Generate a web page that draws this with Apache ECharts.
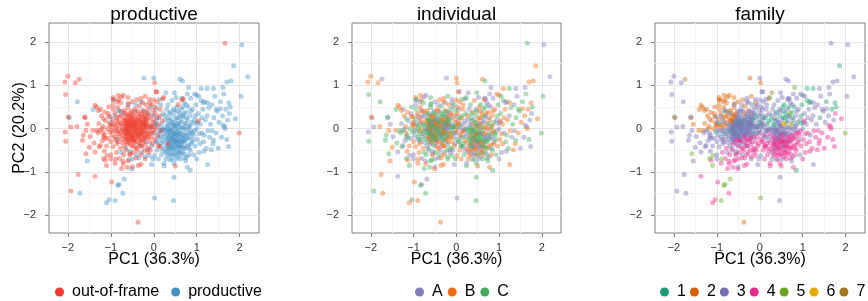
<!DOCTYPE html>
<html>
<head>
<meta charset="utf-8">
<script src="https://cdn.jsdelivr.net/npm/echarts@6/dist/echarts.min.js"></script>
<style>
  html, body { margin: 0; background: #fff; }
  #chart { width: 868px; height: 301px; }
</style>
</head>
<body>
<div id="chart"></div>
<script>
// PCA scores: [PC1, PC2, individual, family]
var outOfFrame = [
  [-2.0,1.21,'B',3],[-2.07,1.08,'B',3],[-1.83,1.06,'B',3],[-1.74,1.14,'A',7],[-2.05,0.79,'C',3],
  [-1.99,0.27,'B',7],[-2.06,-0.08,'A',3],[-2.05,-0.29,'C',3],[-1.93,0.04,'A',3],[-1.79,0.05,'B',3],
  [-1.61,0.27,'C',3],[-1.55,0.10,'A',2],[-1.64,-0.15,'C',3],[-1.58,-0.58,'C',5],[-1.76,-1.06,'B',3],
  [-1.93,-1.44,'C',3],[-1.37,-1.10,'A',4],[-1.37,0.54,'B',2],[-1.29,0.42,'B',2],[-1.33,-0.04,'C',2],
  [-1.17,-0.19,'A',3],[-1.13,-0.73,'B',4],[-0.98,-1.23,'B',4],[-0.37,-2.16,'B',2],[1.66,1.97,'C',3],
  [1.99,-0.10,'C',5],[0.50,-0.86,'B',4],[0.02,1.06,'B',2],[-0.40,0.67,'B',2],[-0.71,0.77,'A',2],
  [-0.82,0.67,'B',2],[-0.59,0.58,'C',2],[0.07,0.85,'A',3],[0.23,0.72,'C',1],[0.65,0.67,'B',3],
  [0.15,-0.42,'A',4],[0.34,-0.35,'C',4],[0.0,0.66,'B',3],[0.69,0.69,'A',3],[0.57,0.56,'C',1],
  [1.04,0.18,'B',4],[0.05,0.85,'B',3],[0.21,0.69,'A',2],
  [-1.60,0.25,'A',2],[-1.58,-0.04,'B',3],[-1.66,-0.27,'C',3],[-1.48,-0.18,'A',3],[-1.42,-0.04,'B',2],
  [-1.39,-0.33,'C',3],[-1.50,-0.43,'B',3],[-1.37,-0.54,'A',3],[-1.33,0.5,'B',2],[-1.17,0.23,'C',2],
  [-1.21,0.0,'A',2],[-1.17,-0.1,'B',3],[-1.13,-0.23,'C',3],[-1.25,-0.39,'A',3],[-1.15,-0.52,'B',3],
  [-1.17,-0.69,'C',5],[-1.0,-0.6,'A',3],[-1.10,-0.85,'C',5],[-1.02,0.08,'B',2],[-1.06,0.35,'A',2],
  [-0.94,0.67,'C',2],[-0.83,0.77,'B',2],[-0.75,0.73,'A',2],[-0.94,0.45,'C',2],[-0.86,0.25,'B',2],
  [-0.98,-0.04,'A',3],[-0.90,-0.19,'C',3],[-0.86,-0.35,'B',3],[-0.80,-0.69,'A',4],[-0.71,-0.81,'B',4],
  [-0.62,-0.89,'C',4],[-0.55,-0.58,'A',3],[-0.36,-0.85,'B',4],
  [-1.28,0.12,'A',2],[-1.25,-0.05,'C',3],[-1.22,0.3,'B',2],[-1.2,-0.28,'A',3],[-1.18,0.05,'B',2],
  [-1.15,-0.15,'C',3],[-1.12,0.18,'A',2],[-1.1,-0.4,'B',3],[-1.08,0.0,'C',2],[-1.06,-0.22,'A',3],
  [-1.05,0.28,'B',2],[-1.03,-0.08,'C',1],[-1.02,0.12,'A',2],[-1.0,-0.3,'B',3],[-1.27,-0.42,'C',3],
  [-1.24,0.45,'A',2],[-1.14,0.38,'B',2],[-1.09,-0.62,'A',5],[-1.3,-0.1,'C',3],
  [-0.98,0.05,'B',2],[-0.97,-0.15,'A',3],[-0.96,0.22,'C',2],[-0.95,-0.42,'B',3],[-0.93,0.12,'A',1],
  [-0.92,-0.05,'C',3],[-0.91,0.35,'B',2],[-0.9,-0.25,'A',3],[-0.88,0.02,'C',2],[-0.87,-0.55,'B',4],
  [-0.86,0.18,'A',3],[-0.85,-0.12,'C',1],[-0.84,0.5,'B',2],[-0.83,-0.3,'A',3],[-0.82,0.08,'C',2],
  [-0.81,-0.02,'B',3],[-0.8,0.28,'A',2],[-0.79,-0.2,'C',3],[-0.78,-0.45,'B',4],[-0.77,0.12,'A',3],
  [-0.76,-0.08,'C',1],[-0.75,0.4,'B',2],[-0.74,-0.32,'A',3],[-0.73,0.0,'C',3],[-0.72,0.2,'B',2],
  [-0.71,-0.15,'A',3],[-0.7,-0.6,'C',4],[-0.95,0.55,'A',2],[-0.89,-0.7,'B',5],[-0.77,0.6,'C',2],
  [-0.72,-0.75,'A',4],
  [-0.69,0.1,'B',3],[-0.68,-0.05,'A',1],[-0.67,0.25,'C',2],[-0.66,-0.22,'B',3],[-0.65,0.02,'A',3],
  [-0.64,-0.12,'C',1],[-0.63,0.15,'B',2],[-0.62,-0.35,'A',4],[-0.61,0.05,'C',3],[-0.6,-0.08,'B',3],
  [-0.59,0.32,'A',2],[-0.58,-0.18,'C',3],[-0.57,0.0,'B',1],[-0.56,0.12,'A',3],[-0.55,-0.28,'C',4],
  [-0.54,0.22,'B',3],[-0.53,-0.05,'A',3],[-0.52,-0.15,'C',1],[-0.51,0.08,'B',3],[-0.5,-0.4,'A',4],
  [-0.49,0.02,'C',3],[-0.48,-0.1,'B',3],[-0.47,0.18,'A',1],[-0.46,-0.22,'C',3],[-0.45,0.06,'B',3],
  [-0.44,-0.02,'A',1],[-0.43,0.28,'C',3],[-0.42,-0.3,'B',4],[-0.41,0.1,'A',3],[-0.4,-0.12,'C',3],
  [-0.68,0.42,'B',2],[-0.64,-0.5,'A',4],[-0.6,0.48,'C',2],[-0.56,-0.6,'B',4],[-0.52,0.4,'A',3],
  [-0.48,-0.55,'C',4],[-0.44,0.45,'B',3],[-0.42,-0.68,'A',4],[-0.66,0.35,'C',2],[-0.62,-0.25,'B',3],
  [-0.58,0.18,'A',3],[-0.54,-0.38,'C',3],[-0.5,0.15,'B',1],[-0.46,-0.32,'A',3],[-0.67,-0.1,'C',3],
  [-0.63,0.0,'B',1],[-0.59,-0.02,'A',3],[-0.55,0.08,'C',3],[-0.51,-0.2,'B',3],[-0.47,-0.04,'A',1],
  [-0.43,0.0,'C',3],[-0.45,-0.15,'B',3],[-0.57,-0.12,'A',3],[-0.61,0.2,'C',2],[-0.53,0.3,'B',3],
  [-0.49,0.25,'A',3],[-0.65,-0.3,'C',3],[-0.41,-0.45,'B',4],
  [-0.39,0.05,'A',3],[-0.38,-0.08,'C',1],[-0.37,0.2,'B',3],[-0.36,-0.2,'A',4],[-0.35,0.0,'C',3],
  [-0.34,0.12,'B',1],[-0.33,-0.3,'A',4],[-0.32,0.3,'C',3],[-0.31,-0.05,'B',3],[-0.3,0.08,'A',3],
  [-0.29,-0.15,'C',3],[-0.28,0.22,'B',1],[-0.27,-0.02,'A',3],[-0.26,0.4,'C',2],[-0.25,-0.25,'B',4],
  [-0.24,0.1,'A',3],[-0.23,-0.1,'C',3],[-0.22,0.18,'B',3],[-0.21,0.02,'A',1],[-0.2,-0.38,'C',4],
  [-0.19,0.3,'B',3],[-0.18,-0.05,'A',3],[-0.17,0.12,'C',3],[-0.16,-0.2,'B',4],[-0.15,0.05,'A',3],
  [-0.14,0.45,'C',3],[-0.13,-0.12,'B',3],[-0.12,0.25,'A',1],[-0.11,0.0,'C',3],[-0.1,-0.3,'B',4],
  [-0.38,-0.5,'A',4],[-0.34,0.52,'C',2],[-0.3,-0.6,'B',4],[-0.26,0.6,'A',3],[-0.22,-0.5,'C',4],
  [-0.18,0.55,'B',3],[-0.14,-0.55,'A',4],[-0.36,0.35,'C',2],[-0.28,-0.4,'B',3],[-0.2,0.38,'A',3],
  [-0.12,-0.45,'C',4],[-0.32,-0.12,'B',3],[-0.24,-0.15,'A',3],[-0.16,0.2,'C',1],[-0.35,-0.35,'B',3],
  [-0.3,0.15,'A',3],[-0.25,0.28,'C',3],[-0.2,0.08,'B',3],
  [-0.09,0.1,'A',3],[-0.08,-0.1,'C',3],[-0.07,0.3,'B',1],[-0.06,-0.2,'A',4],[-0.05,0.05,'C',3],
  [-0.04,0.2,'B',3],[-0.03,-0.35,'A',4],[-0.02,0.42,'C',3],[-0.01,-0.05,'B',3],[0.0,0.15,'A',1],
  [0.02,-0.25,'C',4],[0.03,0.35,'B',3],[0.05,0.0,'A',3],[0.07,0.25,'C',1],[0.09,-0.15,'B',4],
  [0.11,0.1,'A',3],[0.14,0.3,'C',3],[0.17,-0.05,'B',3],[0.2,0.18,'A',1],[-0.05,0.55,'C',3],
  [0.04,0.5,'B',3],[-0.08,-0.5,'A',4],[0.1,-0.4,'C',4],[0.15,0.45,'B',3],[-0.1,0.6,'A',2],
  [-0.95,0.72,'B',2],[-0.6,0.72,'C',2],[-0.5,0.62,'A',2],[-0.3,0.7,'B',3],[-0.2,0.75,'C',2],
  [-0.1,0.68,'A',3],[0.08,0.62,'B',3],[-0.85,0.62,'A',2],[-1.05,0.5,'C',2],
  [-0.9,-0.8,'B',4],[-0.6,-0.75,'C',4],[-0.5,-0.88,'A',3],[-0.3,-0.82,'B',4],[-0.75,-0.92,'C',4],
  [-1.0,-0.7,'A',3],[-0.2,-0.7,'C',3],
  [-0.66,0.07,'A',3],[-0.64,-0.18,'B',3],[-0.62,0.11,'C',1],[-0.6,-0.24,'A',3],[-0.58,0.05,'B',3],
  [-0.56,-0.07,'C',3],[-0.54,0.16,'A',3],[-0.52,-0.26,'B',4],[-0.5,0.04,'C',3],[-0.48,-0.17,'A',3],
  [-0.46,0.13,'B',1],[-0.44,-0.09,'C',3],[-0.42,0.21,'A',3],[-0.4,-0.03,'B',3],[-0.38,0.14,'C',3],
  [-0.36,-0.13,'A',3],[-0.34,0.04,'B',3],[-0.32,-0.22,'C',4],[-0.3,0.02,'A',1],[-0.28,-0.08,'B',3],
  [-0.26,0.16,'C',3],[-0.24,-0.04,'A',3],[-0.22,0.26,'B',3],[-0.2,-0.18,'C',3],[-0.18,0.06,'A',3],
  [-0.16,-0.1,'B',1],[-0.65,0.19,'C',2],[-0.61,-0.14,'A',3],[-0.57,0.27,'B',2],[-0.53,-0.22,'C',3],
  [-0.49,0.09,'A',3],[-0.45,-0.26,'B',3],[-0.41,0.17,'C',1],[-0.37,-0.16,'A',3],[-0.33,0.2,'B',3],
  [-0.29,-0.27,'C',3],[-0.25,0.05,'A',3],[-0.21,-0.22,'B',4],[-0.17,0.22,'C',3],
  [-0.7,-0.02,'A',3],[-0.68,0.18,'B',2],[-0.63,-0.06,'C',3],[-0.59,0.1,'A',3],[-0.55,-0.14,'B',3],
  [-0.51,0.2,'C',3],[-0.47,-0.28,'A',4],[-0.43,0.08,'B',3],[-0.39,-0.22,'C',3],[-0.35,0.26,'A',3],
  [-0.31,-0.1,'B',3],[-0.27,0.12,'C',3],[-0.23,-0.3,'A',4],[-0.19,0.15,'B',3],
  [-0.74,0.08,'C',2],[-0.78,-0.12,'A',3],[-0.82,0.16,'B',2],[-0.72,-0.24,'C',3],[-0.76,0.3,'A',2],
  [-0.86,-0.06,'B',3],[-0.9,0.08,'C',2],[-0.69,-0.4,'A',3],[-0.58,-0.32,'B',3],[-0.47,0.33,'C',3],
  [-0.38,0.4,'A',3],[-0.62,0.3,'B',2],[-0.54,0.36,'C',2],[-0.33,-0.4,'A',4],[-0.44,-0.42,'B',3],
  [-0.28,0.34,'C',3],[-0.15,0.35,'A',3],[-0.12,-0.2,'B',3],[-0.08,0.02,'C',3],[-0.04,-0.1,'A',3],
  [0.0,0.05,'B',3]
];

var productive = [
  [2.05,1.94,'A',3],[1.86,1.45,'B',1],[2.19,1.20,'A',3],[2.03,0.75,'C',3],[1.70,1.08,'B',3],
  [1.80,1.10,'B',3],[1.61,0.95,'A',3],[1.39,0.93,'A',3],[1.24,0.93,'C',1],[1.10,0.93,'B',1],
  [1.90,0.23,'B',4],[1.76,0.35,'A',4],[1.78,0.50,'C',1],[1.55,0.46,'B',3],[1.61,0.08,'A',4],
  [1.66,0.0,'B',4],[1.74,-0.41,'A',4],[1.39,-0.27,'C',4],[1.34,-0.49,'B',4],[1.25,-0.83,'B',3],
  [1.17,-0.52,'A',4],[0.85,-0.96,'C',1],[0.78,-0.89,'B',4],[0.47,-1.12,'C',3],[0.46,-1.66,'C',3],
  [0.02,-1.60,'A',5],[-0.23,1.17,'A',2],[0.0,1.17,'B',3],[0.61,1.14,'B',3],[0.67,1.10,'C',3],
  [0.81,0.95,'A',5],[0.48,0.83,'C',3],[0.28,0.83,'A',7],[1.0,0.77,'B',3],[-1.78,0.62,'C',3],
  [-1.97,0.25,'A',3],[-1.55,-0.75,'B',3],[-1.72,-1.49,'B',3],[-1.10,-1.71,'B',4],[-1.04,-1.64,'C',4],
  [-0.90,-1.66,'B',5],[-0.72,-1.49,'C',4],[-0.84,-1.31,'C',5],[-0.81,-1.29,'A',5],[-0.69,-1.16,'A',5],
  [-0.51,-0.93,'B',4],[-0.94,0.67,'A',2],[-0.05,-0.83,'A',3],[0.24,-0.86,'C',4],[-1.41,0.44,'C',2],
  [-0.82,0.42,'A',3],[-1.02,0.27,'B',3],
  [-0.28,-0.55,'A',4],[-0.25,0.42,'B',3],[-0.2,-0.65,'C',4],[-0.15,-0.48,'A',4],[-0.12,0.35,'B',3],
  [-0.1,-0.62,'C',4],[-0.08,0.5,'A',3],[-0.05,-0.4,'B',4],[-0.02,-0.7,'C',3],[0.0,0.3,'A',3],
  [-0.18,-0.3,'B',3],[-0.06,0.05,'C',1],[-0.22,0.12,'A',3],[-0.3,-0.4,'B',4],[-0.4,-0.6,'C',3],
  [-0.5,-0.7,'A',4],[-0.45,0.4,'B',3],[-0.6,0.55,'C',3],[-0.7,0.35,'A',3],[-0.8,0.4,'B',1],
  [-0.65,-0.45,'C',3],[-0.55,-0.52,'A',3],[-0.35,-0.68,'B',4],[-0.75,-0.55,'C',3],[-0.9,0.3,'A',3],
  [-1.0,0.15,'B',3],[-0.85,-0.25,'C',3],[-0.42,0.55,'A',3],[-0.3,0.62,'B',3],[-0.58,-0.72,'C',4],
  [0.01,-0.1,'A',3],[0.03,0.12,'B',1],[0.05,-0.3,'C',4],[0.06,0.45,'A',3],[0.08,-0.5,'B',4],
  [0.09,0.05,'C',3],[0.1,-0.2,'A',3],[0.12,0.25,'B',1],[0.13,-0.4,'C',4],[0.15,-0.05,'A',3],
  [0.16,0.55,'B',3],[0.18,-0.6,'C',4],[0.19,0.1,'A',1],[0.2,-0.28,'B',3],[0.22,0.35,'C',3],
  [0.23,-0.12,'A',4],[0.25,-0.45,'B',4],[0.26,0.0,'C',3],[0.27,0.2,'A',1],[0.28,-0.7,'B',3],
  [0.29,-0.22,'C',4],[0.3,0.45,'A',3],[0.02,-0.62,'B',3],[0.14,0.68,'C',3],[0.24,-0.8,'A',4],
  [0.07,0.2,'B',3],[0.17,-0.35,'C',4],[0.21,-0.02,'A',3],[0.11,-0.7,'B',4],
  [0.31,-0.1,'C',3],[0.32,0.1,'A',1],[0.33,-0.35,'B',4],[0.34,0.25,'C',3],[0.35,-0.2,'A',4],
  [0.36,-0.5,'B',4],[0.37,0.0,'C',3],[0.38,-0.28,'A',4],[0.39,0.38,'B',1],[0.4,-0.15,'C',3],
  [0.41,-0.42,'A',4],[0.42,0.12,'B',3],[0.43,-0.05,'C',3],[0.44,-0.6,'A',4],[0.45,-0.25,'B',3],
  [0.46,0.3,'C',1],[0.47,-0.35,'A',4],[0.48,0.05,'B',3],[0.49,-0.18,'C',4],[0.5,-0.48,'A',4],
  [0.51,0.2,'B',3],[0.52,-0.08,'C',3],[0.53,-0.3,'A',4],[0.54,0.5,'B',1],[0.55,-0.22,'C',3],
  [0.56,-0.65,'A',4],[0.57,0.1,'B',6],[0.58,-0.4,'C',4],[0.59,-0.12,'A',3],[0.6,0.35,'B',1],
  [0.33,0.55,'C',3],[0.38,-0.72,'A',3],[0.42,0.65,'B',3],[0.47,-0.8,'C',4],[0.52,0.72,'A',3],
  [0.57,-0.52,'B',4],[0.35,-0.05,'C',3],[0.4,0.2,'A',1],[0.45,-0.12,'B',3],[0.5,0.0,'C',3],
  [0.55,0.12,'A',6],[0.6,-0.3,'B',4],[0.32,-0.25,'C',3],[0.37,-0.6,'A',4],[0.43,-0.45,'B',4],
  [0.48,0.4,'C',3],[0.53,-0.42,'A',3],[0.58,0.25,'B',1],[0.36,0.18,'C',3],[0.44,-0.3,'A',3],
  [0.49,-0.6,'B',4],[0.54,-0.15,'C',4],[0.59,-0.55,'A',4],[0.41,-0.22,'B',3],[0.46,0.08,'C',3],
  [0.51,-0.3,'A',4],[0.56,0.0,'B',3],[0.39,-0.05,'C',3],[0.34,-0.45,'A',3],[0.47,-0.1,'B',3],
  [0.61,-0.05,'C',3],[0.62,0.15,'A',1],[0.63,-0.38,'B',4],[0.64,0.45,'C',3],[0.65,-0.2,'A',4],
  [0.66,0.02,'B',3],[0.67,-0.55,'C',4],[0.68,0.28,'A',1],[0.69,-0.1,'B',3],[0.7,-0.3,'C',4],
  [0.71,0.6,'A',3],[0.72,0.1,'B',6],[0.73,-0.45,'C',4],[0.74,-0.02,'A',3],[0.75,0.38,'B',1],
  [0.76,-0.25,'C',4],[0.77,-0.65,'A',3],[0.78,0.2,'B',3],[0.79,-0.12,'C',3],[0.8,0.5,'A',1],
  [0.81,-0.38,'B',4],[0.82,0.05,'C',3],[0.83,-0.2,'A',4],[0.84,0.3,'B',3],[0.85,-0.5,'C',4],
  [0.86,0.7,'A',3],[0.87,-0.05,'B',3],[0.88,0.15,'C',1],[0.89,-0.3,'A',4],[0.9,0.45,'B',3],
  [0.62,-0.7,'C',4],[0.66,0.7,'A',3],[0.7,0.35,'B',5],[0.74,-0.75,'C',3],[0.78,0.8,'A',3],
  [0.82,-0.6,'B',4],[0.64,-0.28,'C',3],[0.72,-0.18,'A',4],[0.8,0.0,'B',3],[0.68,0.5,'C',1],
  [0.76,0.55,'A',3],[0.84,-0.1,'B',4],
  [0.92,-0.15,'C',4],[0.94,0.2,'A',3],[0.96,-0.4,'B',4],[0.98,0.55,'C',1],[1.0,0.0,'A',3],
  [1.02,-0.25,'B',4],[1.04,0.35,'C',3],[1.06,-0.55,'A',4],[1.08,0.1,'B',3],[1.1,0.65,'C',1],
  [1.12,-0.1,'A',4],[1.14,0.45,'B',3],[1.16,-0.3,'C',4],[1.18,0.62,'A',1],[1.2,0.2,'B',3],
  [1.22,-0.45,'C',4],[1.24,0.3,'A',3],[1.26,-0.05,'B',4],[1.28,0.48,'C',3],[1.3,-0.2,'A',4],
  [0.95,0.8,'B',3],[1.05,0.75,'C',3],[1.15,0.6,'A',1],[1.25,0.6,'B',3],[0.93,-0.6,'C',3],
  [1.0,-0.7,'A',4],[1.08,-0.35,'B',4],[1.18,-0.15,'C',3],[0.97,0.12,'A',1],[1.12,0.25,'B',3],
  [1.32,0.1,'C',3],[1.35,0.55,'A',3],[1.38,-0.35,'B',4],[1.4,0.25,'C',1],[1.42,0.75,'A',3],
  [1.45,-0.1,'B',4],[1.48,0.4,'C',3],[1.5,-0.45,'A',4],[1.52,0.15,'B',3],[1.55,0.62,'C',1],
  [1.58,-0.2,'A',4],[1.6,0.3,'B',3],[1.63,0.8,'C',3],[1.65,0.05,'A',4],[1.68,0.45,'B',1],
  [1.7,-0.25,'C',4],[1.72,0.2,'A',3],[1.75,0.6,'B',1],[1.45,0.45,'C',3],[1.36,-0.05,'A',4],
  [0.22,-0.18,'A',3],[0.25,-0.32,'B',4],[0.28,-0.05,'C',3],[0.3,-0.4,'A',4],[0.33,-0.15,'B',3],
  [0.35,-0.3,'C',4],[0.38,-0.1,'A',3],[0.4,-0.35,'B',4],[0.42,-0.22,'C',3],[0.44,-0.4,'A',4],
  [0.46,-0.18,'B',3],[0.48,-0.28,'C',4],[0.5,-0.12,'A',3],[0.52,-0.36,'B',4],[0.54,-0.25,'C',4],
  [0.56,-0.1,'A',3],[0.58,-0.3,'B',4],[0.6,-0.18,'C',3],[0.62,-0.42,'A',4],[0.64,-0.12,'B',3],
  [0.66,-0.32,'C',4],[0.68,-0.22,'A',4],[0.7,-0.45,'B',4],[0.72,-0.28,'C',3],[0.74,-0.15,'A',4],
  [0.31,-0.52,'B',4],[0.36,-0.42,'C',3],[0.41,-0.55,'A',4],[0.46,-0.48,'B',4],[0.51,-0.58,'C',4],
  [0.56,-0.4,'A',3],[0.61,-0.5,'B',4],[0.66,-0.42,'C',4],[0.71,-0.58,'A',4],[0.76,-0.4,'B',4],
  [0.3,0.02,'C',3],[0.35,0.08,'A',1],[0.4,0.0,'B',3],[0.45,0.15,'C',3],[0.5,0.08,'A',3],
  [0.55,0.25,'B',1],[0.6,0.05,'C',3],[0.65,0.18,'A',3],[0.7,0.02,'B',3],[0.75,0.12,'C',1],
  [0.8,-0.22,'A',4],[0.85,0.08,'B',3],[0.9,-0.1,'C',4],
  [0.27,-0.55,'A',3],[0.32,-0.62,'B',4],[0.42,-0.7,'C',4],[0.52,-0.7,'A',3],[0.62,-0.6,'B',4],
  [0.72,-0.68,'C',4],[0.82,-0.45,'A',4],[0.87,-0.35,'B',4],[0.92,-0.25,'C',3],[0.95,-0.05,'A',4],
  [0.26,0.3,'B',1],[0.36,0.35,'C',3],[0.46,0.45,'A',3],[0.56,0.4,'B',1],[0.66,0.3,'C',3],
  [0.76,0.25,'A',1],[0.86,0.4,'B',3],[0.96,0.3,'C',1],[1.02,0.15,'A',3],[1.06,-0.12,'B',4],
  [0.15,-0.2,'C',3],[0.18,0.0,'A',3],[0.12,-0.1,'B',3],[0.08,-0.3,'C',4],[0.2,-0.5,'A',4],
  [0.05,0.1,'B',3]
];

var panelTitles = ['productive', 'individual', 'family'];
var productiveNames = ['out-of-frame', 'productive'];
var productiveColors = ['#ef3b2c', '#4292c6'];
var individualNames = ['A', 'B', 'C'];
var individualColors = ['#807dba', '#f16913', '#41ab5d'];
var familyNames = ['1', '2', '3', '4', '5', '6', '7'];
var familyColors = ['#1b9e77', '#d95f02', '#7570b3', '#e7298a', '#66a61e', '#e6ab02', '#a6761d'];
var majorTicks = [-2, -1, 0, 1, 2];
var minorTicks = [-1.5, -0.5, 0.5, 1.5];

var panelLeft = [49, 352, 655];
var panelWidth = [210, 209, 210];
var legendLeft = [55, 415, 660];
var legendGap = [12, 5, 4];
var font = '"Liberation Sans", Arial, sans-serif';

function fmt(v) {
    return v < 0 ? '\u2212' + (-v) : String(v);
}

var allCells = outOfFrame.map(function (r) { return r.concat('out-of-frame'); })
    .concat(productive.map(function (r) { return r.concat('productive'); }));

var grids = [], xAxes = [], yAxes = [], series = [], titles = [], legends = [];

function axisPair(dim, i, ticks, major) {
    return {
        gridIndex: i,
        type: 'value',
        min: dim === 'x' ? -2.44 : -2.41,
        max: dim === 'x' ? 2.45 : 2.44,
        axisLine: { show: false, onZero: false },
        axisTick: {
            show: major, length: 4, customValues: ticks,
            lineStyle: { color: '#7f7f7f' }
        },
        axisLabel: {
            show: major, customValues: ticks, formatter: fmt,
            color: '#333', fontSize: 11, fontFamily: font,
            margin: dim === 'x' ? 9 : 13
        },
        splitLine: { show: true, lineStyle: { color: major ? '#e5e5e5' : '#f4f4f4', width: 1 } }
    };
}

function scatter(i, name, color, data) {
    return {
        type: 'scatter', name: name,
        xAxisIndex: i * 2, yAxisIndex: i * 2,
        symbol: 'circle', symbolSize: 5,
        itemStyle: { color: color, opacity: 0.42 },
        emphasis: { disabled: true },
        data: data
    };
}

for (var i = 0; i < 3; i++) {
    grids.push({
        left: panelLeft[i], top: 23, width: panelWidth[i], height: 210,
        show: true, borderColor: '#7f7f7f', borderWidth: 1, backgroundColor: '#fff'
    });
    var xa = axisPair('x', i, majorTicks, true);
    xa.name = 'PC1 (36.3%)';
    xa.nameLocation = 'middle';
    xa.nameGap = 19;
    xa.nameMoveOverlap = false;
    xa.nameTextStyle = { fontSize: 16, color: '#000', fontFamily: font };
    xAxes.push(xa, axisPair('x', i, minorTicks, false));
    var ya = axisPair('y', i, majorTicks, true);
    if (i === 0) {
        ya.name = 'PC2 (20.2%)';
        ya.nameLocation = 'middle';
        ya.nameGap = 21;
        ya.nameMoveOverlap = false;
        ya.nameTextStyle = { fontSize: 16, color: '#000', fontFamily: font };
    }
    yAxes.push(ya, axisPair('y', i, minorTicks, false));
    titles.push({
        text: panelTitles[i], left: panelLeft[i] + panelWidth[i] / 2, top: 5, padding: 0,
        textAlign: 'center',
        textStyle: { fontSize: 19, fontWeight: 'normal', color: '#000', fontFamily: font }
    });
}

// panel 1: productive (draw productive first so out-of-frame sits on top)
series.push(scatter(0, 'productive', productiveColors[1], productive.map(function (r) { return [r[0], r[1]]; })));
series.push(scatter(0, 'out-of-frame', productiveColors[0], outOfFrame.map(function (r) { return [r[0], r[1]]; })));

// panel 2: individual
individualNames.forEach(function (n, k) {
    series.push(scatter(1, n, individualColors[k],
        allCells.filter(function (r) { return r[2] === n; }).map(function (r) { return [r[0], r[1]]; })));
});

// panel 3: family
familyNames.forEach(function (n, k) {
    series.push(scatter(2, n, familyColors[k],
        allCells.filter(function (r) { return String(r[3]) === n; }).map(function (r) { return [r[0], r[1]]; })));
});

[productiveNames, individualNames, familyNames].forEach(function (names, i) {
    legends.push({
        data: names, left: legendLeft[i], top: 284, orient: 'horizontal', padding: 0,
        width: 230,
        icon: 'circle', itemWidth: 9, itemHeight: 9, itemGap: legendGap[i],
        itemStyle: { opacity: 1 },
        selectedMode: false,
        textStyle: { fontSize: 16, color: '#000', fontFamily: font, padding: [0, 0, 0, 3] }
    });
});

var chart = echarts.init(document.getElementById('chart'));
chart.setOption({
    animation: false,
    backgroundColor: '#fff',
    title: titles,
    legend: legends,
    grid: grids,
    xAxis: xAxes,
    yAxis: yAxes,
    series: series
});
</script>
</body>
</html>
